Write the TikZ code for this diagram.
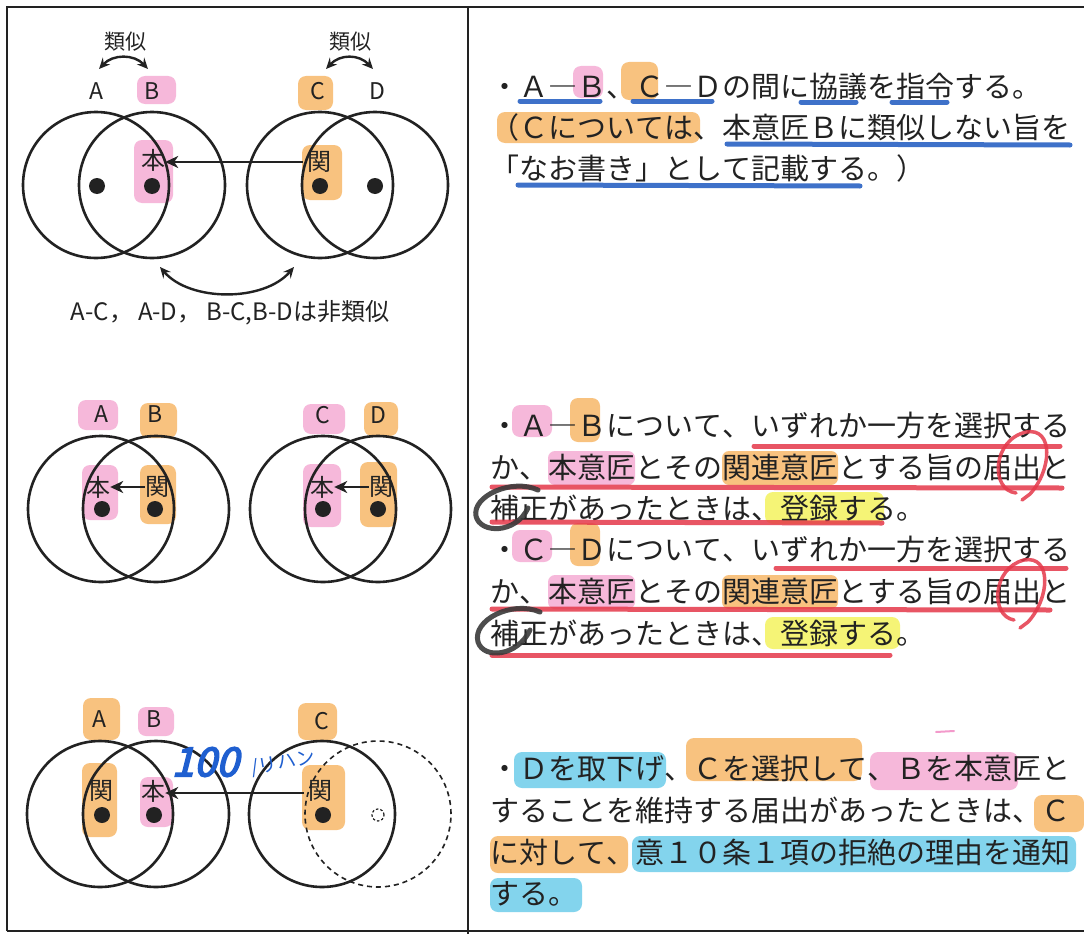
\documentclass[tikz,border=0pt]{standalone}
\usepackage{fontspec}
\setmainfont{Noto Sans CJK JP}[Kerning=Off]
\newfontfamily\penfont{Noto Sans CJK JP}[FakeBold=4,FakeSlant=0.25]
\usetikzlibrary{arrows.meta}
\definecolor{pinkhl}{HTML}{F39ACB}
\definecolor{orghl}{HTML}{F6A94A}
\definecolor{yelhl}{HTML}{F2F03C}
\definecolor{cyanhl}{HTML}{4FC3E6}
\definecolor{ulblue}{HTML}{2A62C4}
\definecolor{ulred}{HTML}{E5384A}
\definecolor{ink}{HTML}{222222}
\definecolor{penblue}{HTML}{1F5FD0}
\definecolor{pengray}{HTML}{3A3A3A}
\newcommand{\hlchars}[4]{\fill[#4, opacity=0.7, rounded corners=7pt] ({490+29*(#2)},{#1-27}) rectangle ({519+29*(#3)},{#1+7});}
\begin{document}
\begin{tikzpicture}[x=1pt,y=-1pt,
  frameline/.style={line width=2pt, draw=ink},
  ring/.style={line width=2.6pt, draw=ink},
  dashring/.style={line width=1.6pt, draw=ink, dash pattern=on 5pt off 4pt},
  dotnode/.style={circle, fill=ink, inner sep=0pt, minimum size=16pt},
  lbl/.style={font=\fontsize{23}{26}\selectfont, text=ink, inner sep=1pt},
  kanjilbl/.style={font=\fontsize{24}{27}\selectfont, text=ink, inner sep=0pt},
  bodytext/.style={anchor=base west, inner sep=0pt, font=\fontsize{29}{34}\selectfont, text=ink},
  blob/.style={opacity=0.7, rounded corners=8pt},
  arr/.style={line width=2.6pt, draw=ink, -{Stealth[length=13pt,width=12pt,inset=4pt]}},
  darr/.style={line width=2.4pt, draw=ink, {Stealth[length=11pt,width=10pt,inset=4pt]}-{Stealth[length=11pt,width=10pt,inset=4pt]}},
  ulb/.style={line width=5pt, draw=ulblue, line cap=round, opacity=0.9},
  ulr/.style={line width=5pt, draw=ulred, line cap=round, opacity=0.85},
  redloop/.style={line width=3.5pt, draw=ulred, line cap=round, opacity=0.85},
  grayloop/.style={line width=5pt, draw=pengray, line cap=round, opacity=0.9}]
\useasboundingbox (0,0) rectangle (1084,934);
\fill[white] (0,0) rectangle (1084,934);

% ---------- frame ----------
\draw[frameline] (7,931) -- (7,7) -- (1084,7);
\draw[frameline] (468,7) -- (468,934);
\draw[frameline] (7,931) -- (1084,931);

% =================== PANEL 1 (left) ===================
\fill[pinkhl, blob] (137,76) rectangle (176,104);
\fill[pinkhl, blob] (134,140) rectangle (173,203);
\fill[orghl, blob] (298,76) rectangle (333,110);
\fill[orghl, blob] (302,145) rectangle (342,200);

\draw[ring] (96,185) circle[radius=73pt];
\draw[ring] (152,185) circle[radius=73pt];
\draw[ring] (320,185) circle[radius=73pt];
\draw[ring] (375,185) circle[radius=73pt];
\node[dotnode] (d1a) at (97,186) {};
\node[dotnode] (d1b) at (152,186) {};
\node[dotnode] (d1c) at (320,186) {};
\node[dotnode] (d1d) at (375,186) {};

\node[lbl, font=\fontsize{21}{24}\selectfont] (r1a) at (125,42) {類似};
\node[lbl, font=\fontsize{21}{24}\selectfont] (r1b) at (350,42) {類似};
\node[lbl] (a1) at (96,91) {A};
\node[lbl] (b1) at (152,91) {B};
\node[lbl] (c1) at (318,91) {C};
\node[lbl] (e1) at (377,91) {D};
\coordinate (s1l) at (99,69);
\coordinate (s1r) at (148,69);
\coordinate (s2l) at (326,69);
\coordinate (s2r) at (373,69);
\draw[darr] (s1l) .. controls (113,54) and (134,54) .. (s1r);
\draw[darr] (s2l) .. controls (340,54) and (359,54) .. (s2r);

\node[kanjilbl] (hon1) at (153,160) {本};
\node[kanjilbl] (kan1) at (319,162) {関};
\draw[arr] (kan1.west) ++(-4,0) coordinate (k1s) -- (hon1.east |- k1s);

\coordinate (n1l) at (160,267);
\coordinate (n1r) at (294,267);
\draw[darr] (n1l) .. controls (190,302) and (264,302) .. (n1r);
\node[font=\fontsize{24}{27}\selectfont, text=ink] (nonsim) at (230,313) {A-C，\hspace{5pt}A-D，\hspace{5pt}B-C,B-Dは非類似};

% =================== PANEL 2 (left) ===================
\fill[pinkhl, blob] (78,400) rectangle (118,430);
\fill[orghl, blob] (140,403) rectangle (177,438);
\fill[pinkhl, blob] (82,465) rectangle (118,520);
\fill[orghl, blob] (140,465) rectangle (176,524);
\fill[pinkhl, blob] (303,404) rectangle (345,434);
\fill[orghl, blob] (364,402) rectangle (398,436);
\fill[pinkhl, blob] (303,464) rectangle (341,527);
\fill[orghl, blob] (360,462) rectangle (397,527);

\draw[ring] (101,509) circle[radius=73pt];
\draw[ring] (156,509) circle[radius=73pt];
\draw[ring] (323,509) circle[radius=73pt];
\draw[ring] (378,509) circle[radius=73pt];
\node[dotnode] (d2a) at (102,509) {};
\node[dotnode] (d2b) at (155,509) {};
\node[dotnode] (d2c) at (323,509) {};
\node[dotnode] (d2d) at (378,509) {};

\node[lbl] (a2) at (101,414) {A};
\node[lbl] (b2) at (155,414) {B};
\node[lbl] (c2) at (323,415) {C};
\node[lbl] (e2) at (378,415) {D};
\node[kanjilbl] (hon2a) at (98,487) {本};
\node[kanjilbl] (kan2a) at (157,487) {関};
\node[kanjilbl] (hon2c) at (322,487) {本};
\node[kanjilbl] (kan2d) at (381,487) {関};
\draw[arr] (kan2a.west) -- (hon2a.east);
\draw[arr] (kan2d.west) -- (hon2c.east);

% =================== PANEL 3 (left) ===================
\fill[orghl, blob] (83,698) rectangle (120,740);
\fill[pinkhl, blob] (138,707) rectangle (174,736);
\fill[orghl, blob] (82,763) rectangle (117,837);
\fill[pinkhl, blob] (140,777) rectangle (173,827);
\fill[orghl, blob] (298,703) rectangle (337,740);
\fill[orghl, blob] (302,765) rectangle (345,830);

\draw[ring] (100,814) circle[radius=73pt];
\draw[ring] (156,814) circle[radius=73pt];
\draw[ring] (322,814) circle[radius=73pt];
\draw[dashring] (378,814) circle[radius=73pt];
\draw[line width=1.2pt, draw=ink, dash pattern=on 2.5pt off 2pt] (378,815) circle[radius=6pt];
\node[dotnode] (d3a) at (102,815) {};
\node[dotnode] (d3b) at (154,815) {};
\node[dotnode] (d3c) at (323,815) {};

\node[lbl] (a3) at (99,719) {A};
\node[lbl] (b3) at (154,719) {B};
\node[lbl] (c3) at (322,721) {C};
\node[kanjilbl] (kan3a) at (101,791) {関};
\node[kanjilbl] (hon3b) at (153,791) {本};
\node[kanjilbl] (kan3c) at (320,791) {関};
\draw[arr] (kan3c.west) ++(-4,2) coordinate (k3s) -- (hon3b.east |- k3s);

\node[text=penblue, font=\penfont\fontsize{40}{40}\selectfont, inner sep=0pt] (pen1) at (205,762) {100};
\node[text=penblue, font=\fontsize{19}{19}\selectfont, inner sep=0pt, rotate=10] (pen2) at (283,763) {/リハン};

% =================== RIGHT TEXT, PANEL 1 ===================
\fill[pinkhl, blob] (573,66) rectangle (603,98);
\fill[orghl, blob] (621,62) rectangle (658,100);
\fill[orghl, blob] (497,112) rectangle (700,143);

\node[bodytext] (t1) at (490,97) {・Ａ―Ｂ、Ｃ―Ｄの間に協議を指令する。};
\node[bodytext] (t2) at (490,138) {（Ｃについては、本意匠Ｂに類似しない旨を};
\node[bodytext] (t3) at (490,179) {「なお書き」として記載する。）};

\draw[ulb] (520,101) -- (600,101);
\draw[ulb] (633,101) -- (712,101);
\draw[ulb] (801,102) -- (856,102);
\draw[ulb] (892,102) -- (947,102);
\draw[ulb] (727,144) -- (1070,145);
\draw[ulb] (518,185) -- (860,186);

% =================== RIGHT TEXT, PANEL 2 ===================
\fill[pinkhl, blob] (512,405) rectangle (552,437);
\fill[orghl, blob] (570,398) rectangle (600,442);
\hlchars{478}{2}{4}{pinkhl}
\hlchars{478}{8}{11}{orghl}
\fill[yelhl, blob] (765,492) rectangle (884,524);
\fill[pinkhl, blob] (512,530) rectangle (552,562);
\fill[orghl, blob] (570,523) rectangle (600,566);
\hlchars{602}{2}{4}{pinkhl}
\hlchars{602}{8}{11}{orghl}
\fill[yelhl, blob] (765,617) rectangle (900,649);

\node[bodytext] (u1) at (490,436) {・Ａ―Ｂについて、いずれか一方を選択する};
\node[bodytext] (u2) at (490,478) {か、本意匠とその関連意匠とする旨の届出と};
\node[bodytext] (u3) at (490,519) {補正があったときは、登録する。};
\node[bodytext] (u4) at (490,560) {・Ｃ―Ｄについて、いずれか一方を選択する};
\node[bodytext] (u5) at (490,602) {か、本意匠とその関連意匠とする旨の届出と};
\node[bodytext] (u6) at (490,644) {補正があったときは、登録する。};

\draw[ulr] (754,446) -- (1060,446);
\draw[ulr] (492,487) -- (1062,488);
\draw[ulr] (492,522) -- (882,523);
\draw[ulr] (776,568) -- (1066,568);
\draw[ulr] (492,609) -- (1050,610);
\draw[ulr] (492,655) -- (890,655);

\draw[redloop] (1016,493) .. controls (990,490) and (992,440) .. (1026,432)
  .. controls (1054,427) and (1052,470) .. (1030,494) -- (1022,500);
\draw[redloop] (1014,620) .. controls (990,616) and (992,568) .. (1024,560)
  .. controls (1052,555) and (1050,598) .. (1028,622) -- (1020,628);
\draw[grayloop] (538,490) .. controls (512,478) and (472,496) .. (476,516)
  .. controls (480,534) and (516,534) .. (528,508);
\draw[grayloop] (540,612) .. controls (512,600) and (472,620) .. (478,642)
  .. controls (484,660) and (518,656) .. (530,630);

% =================== RIGHT TEXT, PANEL 3 ===================
\fill[cyanhl, blob] (514,752) rectangle (666,788);
\fill[orghl, blob] (686,738) rectangle (862,781);
\fill[pinkhl, blob] (870,752) rectangle (1018,790);
\fill[orghl, blob] (1034,795) rectangle (1084,832);
\fill[orghl, blob] (490,836) rectangle (628,873);
\fill[cyanhl, blob] (632,836) rectangle (1076,872);
\fill[cyanhl, blob] (490,878) rectangle (582,912);
\draw[pinkhl, line width=2pt, line cap=round] (936,732) -- (954,731);

\node[bodytext] (v1) at (490,779) {・Ｄを取下げ、Ｃを選択して、Ｂを本意匠と};
\node[bodytext] (v2) at (490,821) {することを維持する届出があったときは、Ｃ};
\node[bodytext] (v3) at (490,863) {に対して、意１０条１項の拒絶の理由を通知};
\node[bodytext] (v4) at (490,904) {する。};
\end{tikzpicture}
\end{document}
